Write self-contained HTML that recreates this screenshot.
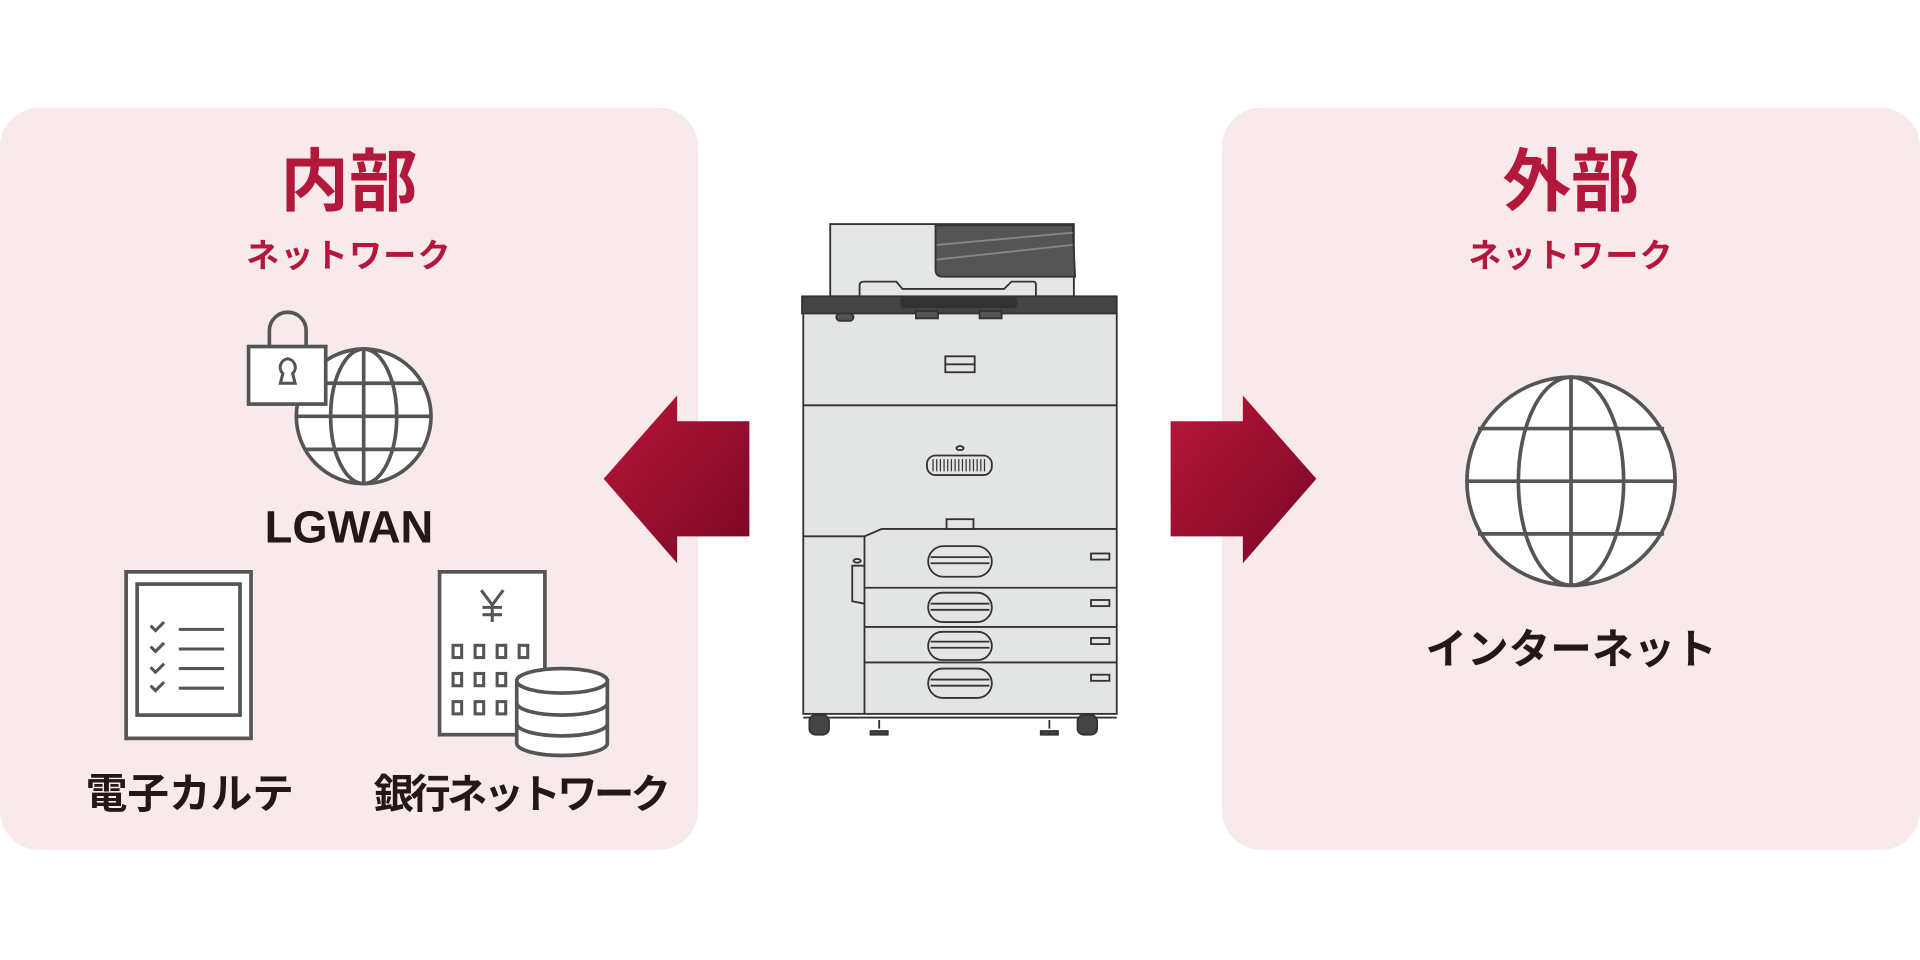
<!DOCTYPE html>
<html><head><meta charset="utf-8"><style>
html,body{margin:0;padding:0;background:#fff;width:1920px;height:960px;overflow:hidden}
svg{display:block}
text{font-family:"Liberation Sans","Noto Sans CJK JP",sans-serif}
</style></head><body>
<svg width="1920" height="960" viewBox="0 0 1568 784" xmlns="http://www.w3.org/2000/svg">
<defs>
<linearGradient id="g" x1="0" y1="0" x2="1" y2="1">
<stop offset="0" stop-color="#b8173b"/><stop offset="1" stop-color="#7a0623"/>
</linearGradient>
</defs>
<rect x="0" y="88" width="570" height="606" rx="32" fill="#f8eaea"/>
<rect x="998" y="88" width="570" height="606" rx="32" fill="#f8eaea"/>

<text x="285" y="168" text-anchor="middle" font-size="56" font-weight="bold" fill="#b3173b">内部</text>
<text x="285" y="218" text-anchor="middle" font-size="27" font-weight="bold" fill="#b3173b" letter-spacing="1">ネットワーク</text>
<text x="1283" y="168" text-anchor="middle" font-size="56" font-weight="bold" fill="#b3173b">外部</text>
<text x="1283" y="218" text-anchor="middle" font-size="27" font-weight="bold" fill="#b3173b" letter-spacing="1">ネットワーク</text>

<g stroke="#555" stroke-width="3" fill="#fff">
<circle cx="297" cy="340" r="55"/>
<ellipse cx="297" cy="340" rx="27" ry="55" fill="none"/>
<line x1="297" y1="285" x2="297" y2="395"/>
<line x1="242" y1="340" x2="352" y2="340"/>
<line x1="248" y1="313" x2="346" y2="313"/>
<line x1="248" y1="367" x2="346" y2="367"/>
<path d="M220 283 V270 a15 15 0 0 1 30 0 V283" fill="none"/>
<rect x="203" y="283" width="63" height="47"/>
<path d="M235 293 a7 7 0 0 1 4 12 l2 8 h-12 l2 -8 a7 7 0 0 1 4 -12z" stroke-width="2.5"/>
<rect x="103" y="467" width="102" height="136"/>
<rect x="112" y="477" width="84" height="107"/>
<g fill="none" stroke-width="2.5">
<path d="M123 511 l4 4 7 -7 M123 528 l4 4 7 -7 M123 545 l4 4 7 -7 M123 560 l4 4 7 -7"/>
<path d="M146 514 H183 M146 530 H183 M146 546 H183 M146 562 H183"/>
</g>
<rect x="359" y="467" width="86" height="133"/>
<g stroke-width="2.5" fill="none">
<path d="M393 482 l9 12 9 -12 M402 494 V508 M394 496 H410 M394 502 H410"/>
<rect x="370" y="527" width="7" height="10"/><rect x="388" y="527" width="7" height="10"/><rect x="406" y="527" width="7" height="10"/><rect x="424" y="527" width="7" height="10"/>
<rect x="370" y="550" width="7" height="10"/><rect x="388" y="550" width="7" height="10"/><rect x="406" y="550" width="7" height="10"/>
<rect x="370" y="573" width="7" height="10"/><rect x="388" y="573" width="7" height="10"/><rect x="406" y="573" width="7" height="10"/>
</g>
<path d="M422 556 V607 a37 10 0 0 0 74 0 V556z"/>
<ellipse cx="459" cy="556" rx="37" ry="10"/>
<path d="M422 574 a37 10 0 0 0 74 0 M422 591 a37 10 0 0 0 74 0" fill="none"/>
<circle cx="1283" cy="393" r="85"/>
<ellipse cx="1283" cy="393" rx="43" ry="85" fill="none"/>
<line x1="1283" y1="308" x2="1283" y2="478"/>
<line x1="1198" y1="393" x2="1368" y2="393"/>
<line x1="1207" y1="350" x2="1359" y2="350"/>
<line x1="1207" y1="436" x2="1359" y2="436"/>
</g>

<text x="285" y="443" text-anchor="middle" font-size="37" font-weight="bold" fill="#231815">LGWAN</text>
<text x="155" y="660" text-anchor="middle" font-size="34" font-weight="bold" fill="#231815">電子カルテ</text>
<text x="425" y="660" text-anchor="middle" font-size="33" font-weight="bold" fill="#231815" letter-spacing="-3">銀行ネットワーク</text>
<text x="1283" y="542" text-anchor="middle" font-size="34" font-weight="bold" fill="#231815">インターネット</text>

<polygon points="493,391 553,323 553,344 612,344 612,438 553,438 553,460" fill="url(#g)"/>
<polygon points="956,344 1015,344 1015,323 1075,391 1015,460 1015,438 956,438" fill="url(#g)"/>

<g stroke="#333" stroke-width="1.5">
<rect x="678" y="183" width="199" height="59" fill="#e4e6e6"/>
<path d="M764 184 H876 L878 226 L770 226 Q764 226 764 220z" fill="#555"/>
<path d="M765 200 L876 190 M765 212 L876 200" stroke="#888" fill="none"/>
<path d="M702 242 V233 Q702 230 706 230 H732 L737 236 H820 L826 230 H844 Q846 230 846 233 V242" fill="#e4e6e6"/>
<rect x="655" y="242" width="257" height="14" fill="#444"/>
<rect x="736" y="243" width="94" height="8" rx="2" fill="#333"/>
<path d="M734 256 L742 262 H824 L832 256" fill="#444"/>
<rect x="656" y="256" width="256" height="327" fill="#e3e5e5"/>
<rect x="683" y="256" width="14" height="6" rx="3" fill="#555"/>
<rect x="748" y="254" width="18" height="6" fill="#555"/><rect x="800" y="254" width="18" height="6" fill="#555"/>
<line x1="656" y1="331" x2="912" y2="331"/>
<rect x="772" y="291" width="24" height="13" fill="#e3e5e5"/><line x1="772" y1="297.5" x2="796" y2="297.5"/>
<ellipse cx="784" cy="366" rx="3" ry="1.6" fill="none"/>
<rect x="757" y="372" width="53" height="16" rx="7" fill="#e3e5e5"/>
<path d="M762 375V385M765 375V385M768 375V385M771 375V385M774 375V385M777 375V385M780 375V385M783 375V385M786 375V385M789 375V385M792 375V385M795 375V385M798 375V385M801 375V385M804 375V385" stroke-width="1"/>
<rect x="773" y="424" width="22" height="8" fill="#e3e5e5"/>
<path d="M656 438 H706 L720 432 H912" fill="none"/>
<line x1="706" y1="438" x2="706" y2="583"/>
<path d="M706 480H912M706 512H912M706 541H912" fill="none"/>
<path d="M706 462 H696 V491 L706 493" fill="none"/>
<ellipse cx="700" cy="458" rx="3" ry="1.5" fill="none"/>
<g fill="#e3e5e5">
<rect x="758" y="446" width="52" height="25" rx="12.5"/><line x1="760" y1="455" x2="808" y2="455"/><line x1="760" y1="460" x2="808" y2="460"/>
<rect x="758" y="484" width="52" height="24" rx="12"/><line x1="760" y1="493" x2="808" y2="493"/><line x1="760" y1="498" x2="808" y2="498"/>
<rect x="758" y="516" width="52" height="23" rx="11.5"/><line x1="760" y1="524" x2="808" y2="524"/><line x1="760" y1="529" x2="808" y2="529"/>
<rect x="758" y="546" width="52" height="24" rx="12"/><line x1="760" y1="555" x2="808" y2="555"/><line x1="760" y1="560" x2="808" y2="560"/>
<rect x="891" y="452" width="15" height="5"/><rect x="891" y="490" width="15" height="5"/>
<rect x="891" y="521" width="15" height="5"/><rect x="891" y="551" width="15" height="5"/>
</g>
<line x1="656" y1="586" x2="912" y2="586"/>
<rect x="661" y="584" width="16" height="16" rx="5" fill="#444"/>
<rect x="880" y="584" width="16" height="16" rx="5" fill="#444"/>
<path d="M718 588 V595 M711 597 H725 V600 H711z" fill="#444"/>
<path d="M857 588 V595 M850 597 H864 V600 H850z" fill="#444"/>
</g>
</svg>
</body></html>
